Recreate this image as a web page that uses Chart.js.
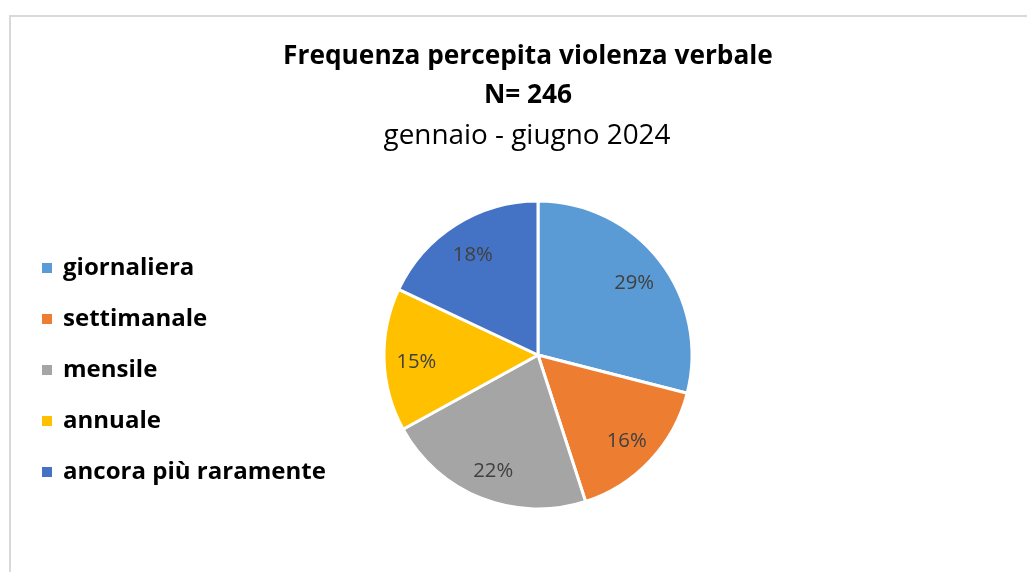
<!DOCTYPE html>
<html>
<head>
<meta charset="utf-8">
<script src="https://cdn.jsdelivr.net/npm/chart.js@4"></script>
<style>
  html, body { margin: 0; padding: 0; background: #fff; }
  #wrap { width: 1027px; height: 572px; }
</style>
</head>
<body>
<div id="wrap"><canvas id="pieChart" width="1027" height="572"></canvas></div>
<script>
const categories = ['giornaliera', 'settimanale', 'mensile', 'annuale', 'ancora più raramente'];
const percentages = [29, 16, 22, 15, 18];
const colors = ['#5B9BD5', '#ED7D31', '#A5A5A5', '#FFC000', '#4472C4'];
const titleLines = ['Frequenza percepita violenza verbale', 'N= 246'];
const subtitleText = 'gennaio - giugno 2024';

const FONT = '"Open Sans", sans-serif';

// pick a font size so the text is about as wide as in the original
function fitFont(ctx, text, weight, width) {
  ctx.font = weight + ' 20px ' + FONT;
  const w = ctx.measureText(text).width;
  return weight + ' ' + (20 * width / w).toFixed(2) + 'px ' + FONT;
}

// frame, title, legend and labels drawn by hand
const decorations = {
  id: 'decorations',
  beforeDraw(chart) {
    const ctx = chart.ctx;
    ctx.save();
    ctx.fillStyle = '#fff';
    ctx.fillRect(0, 0, chart.width, chart.height);
    ctx.strokeStyle = '#d9d9d9';
    ctx.lineWidth = 2;
    ctx.strokeRect(10, 16, 1100, 700);
    ctx.restore();
  },
  afterDraw(chart) {
    const ctx = chart.ctx;
    ctx.save();
    ctx.textAlign = 'center';
    ctx.textBaseline = 'middle';
    ctx.fillStyle = '#000';
    const titleFont = fitFont(ctx, titleLines[0], 'bold', 490);
    ctx.font = titleFont;
    ctx.fillText(titleLines[0], 528, 57);
    ctx.fillText(titleLines[1], 528, 96);
    ctx.font = fitFont(ctx, subtitleText, 'normal', 287);
    ctx.fillText(subtitleText, 527, 136);

    // legend
    ctx.textAlign = 'left';
    const legendFont = fitFont(ctx, categories[4], 'bold', 263);
    categories.forEach((c, i) => {
      const y = 268 + i * 51;
      ctx.fillStyle = colors[i];
      ctx.fillRect(42, y - 5, 10, 10);
      ctx.fillStyle = '#000';
      ctx.font = legendFont;
      ctx.fillText(c, 63, y);
    });

    // data labels
    const meta = chart.getDatasetMeta(0);
    ctx.textAlign = 'center';
    ctx.fillStyle = '#404040';
    ctx.font = fitFont(ctx, '29%', 'normal', 40);
    meta.data.forEach((arc, i) => {
      const a = (arc.startAngle + arc.endAngle) / 2;
      const r = arc.outerRadius * 0.79;
      ctx.fillText(percentages[i] + '%', arc.x + Math.cos(a) * r, arc.y + Math.sin(a) * r + 3);
    });
    ctx.restore();
  }
};

new Chart(document.getElementById('pieChart').getContext('2d'), {
  type: 'pie',
  data: {
    labels: categories,
    datasets: [{
      data: percentages,
      backgroundColor: colors,
      borderColor: '#fff',
      borderWidth: 3,
      radius: 154
    }]
  },
  options: {
    responsive: false,
    animation: false,
    layout: { padding: { left: 49, right: 0, top: 190, bottom: 52 } },
    plugins: {
      legend: { display: false },
      title: { display: false },
      tooltip: { enabled: false }
    }
  },
  plugins: [decorations]
});
</script>
</body>
</html>
